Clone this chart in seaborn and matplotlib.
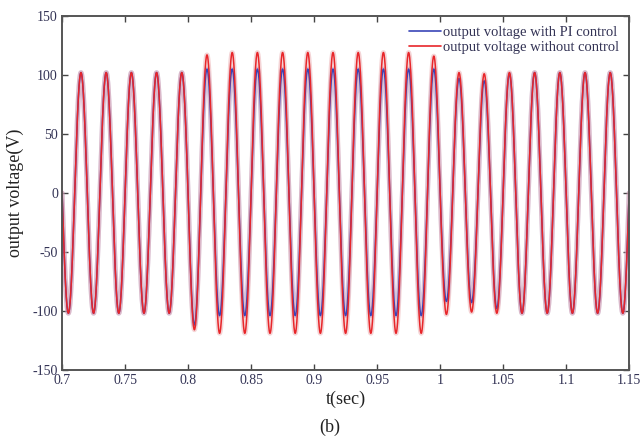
import numpy as np
import pandas as pd
import seaborn as sns
import matplotlib.pyplot as plt
from matplotlib.ticker import FuncFormatter

# half-cycle peak magnitudes (50 Hz, one value per 10 ms half cycle from 0.70 s)
amp_no_control = [102, 102, 102, 102, 102, 102, 102, 102, 102, 102,
                  116, 117, 119, 119, 119, 119, 119, 119, 119, 119,
                  119, 119, 119, 119, 119, 119, 119, 119, 119, 116,
                  103, 102, 101, 101, 102, 102, 102, 102, 102, 102,
                  102, 102, 102, 102, 102]
amp_pi = [102, 102, 102, 102, 102, 102, 102, 102, 102, 102,
          112, 105, 104, 105, 104, 105, 104, 105, 104, 105,
          104, 105, 104, 105, 104, 105, 104, 105, 104, 105,
          92, 97, 93, 95, 98, 101, 102, 102, 102, 102,
          102, 102, 102, 102, 102]
labels = ['output voltage with PI control', 'output voltage without control']
freq = 50
t_start, t_end = 0.7, 1.15

t = np.linspace(t_start, t_end, 3001)
k = np.clip(((t - t_start) / 0.01).astype(int), 0, len(amp_pi) - 1)
carrier = -np.sin(2 * np.pi * freq * t)

df = pd.concat([
    pd.DataFrame({'t': t, 'v': np.array(amp_pi)[k] * carrier, 'series': labels[0]}),
    pd.DataFrame({'t': t, 'v': np.array(amp_no_control)[k] * carrier, 'series': labels[1]}),
])

sns.set_style('ticks')
plt.rcParams['font.family'] = ['Liberation Serif', 'DejaVu Serif']
plt.rcParams['axes.unicode_minus'] = False

fig = plt.figure(figsize=(6.4, 4.44), dpi=100)
ax = fig.add_axes([0.097, 0.167, 0.886, 0.797])

pal = {labels[0]: '#3a45b8', labels[1]: '#e8262a'}
halo = {labels[0]: '#9a90cc', labels[1]: '#e8a0a4'}

# soft halo like the scanned original, then the crisp traces
sns.lineplot(data=df, x='t', y='v', hue='series', palette=halo, linewidth=3.5,
             alpha=0.45, legend=False, ax=ax, estimator=None, sort=False)
sns.lineplot(data=df, x='t', y='v', hue='series', palette=pal, linewidth=1.1,
             ax=ax, estimator=None, sort=False)

ax.set_xlim(t_start, t_end)
ax.set_ylim(-150, 150)
ax.set_xticks(np.arange(0.7, 1.1501, 0.05))
ax.set_yticks(np.arange(-150, 151, 50))
ax.xaxis.set_major_formatter(FuncFormatter(lambda x, p: '%g' % round(x, 2)))
ax.tick_params(direction='in', top=True, right=True, labelsize=10,
               colors='#444444', labelcolor='#333355', length=4, width=1)
ax.tick_params(axis='x', pad=3)
ax.tick_params(axis='y', pad=3)
for s in ax.spines.values():
    s.set_color('#555555')
    s.set_linewidth(1.4)

ax.set_xlabel('t(sec)', fontsize=13, labelpad=3, color='#222222')
ax.set_ylabel('output voltage(V)', fontsize=13, labelpad=6, color='#222222')

leg = ax.legend(loc='upper right', frameon=False, fontsize=10.5, handlelength=2.2,
                handletextpad=0.1, labelspacing=0.1, borderaxespad=0.3)
for line in leg.get_lines():
    line.set_linewidth(1.2)
for txt in leg.get_texts():
    txt.set_color('#333355')

fig.text(0.515, 0.027, '(b)', fontsize=13, ha='center', color='#222222')

fig.savefig('out.png', dpi=100)
